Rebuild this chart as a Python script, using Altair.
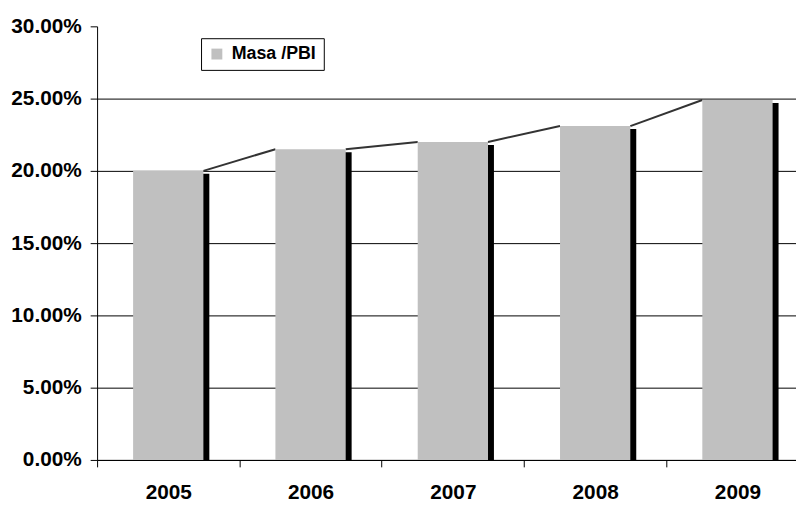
import altair as alt
import pandas as pd

# ---- data ----
years = ["2005", "2006", "2007", "2008", "2009"]
values = [0.200, 0.215, 0.220, 0.231, 0.249]
series_name = "Masa /PBI"
y_ticks = [0.0, 0.05, 0.10, 0.15, 0.20, 0.25, 0.30]

# ---- layout constants (pixels) ----
BAND = 143.75          # width of one category slot
HALF = 35.5 / BAND     # half bar width in category units
W = 706
H = 438
FONT = "Liberation Sans"

bar_rows = []
for i, (yr, v) in enumerate(zip(years, values)):
    bar_rows.append(dict(year=yr, left=i + 0.5 - HALF, right=i + 0.5 + HALF,
                         value=v, series=series_name))
bars_df = pd.DataFrame(bar_rows)

# series lines: from top-right corner of one bar to top-left corner of the next
line_rows = []
for i in range(len(years) - 1):
    line_rows.append(dict(pos=bar_rows[i]["right"], value=values[i], seg=i, order=0))
    line_rows.append(dict(pos=bar_rows[i + 1]["left"], value=values[i + 1], seg=i, order=1))
line_df = pd.DataFrame(line_rows)

x_scale = alt.Scale(domain=[0, W / BAND], nice=False, zero=False)
y_scale = alt.Scale(domain=[0, 0.30], nice=False)

label_expr = "[" + ",".join(f"'{y}'" for y in years) + "][datum.value]"

x_axis = alt.Axis(
    values=list(range(len(years))), labelExpr=label_expr, labelOffset=BAND / 2,
    title=None, grid=False, tickSize=7, tickColor="black", domainColor="black",
    labelFont=FONT, labelFontSize=21, labelFontWeight="bold", labelColor="black",
    labelPadding=15, labelFlush=False, labelOverlap=False, labelBound=False,
)
y_axis = alt.Axis(
    values=y_ticks, format=".2%", title=None, grid=True, gridColor="black",
    gridOpacity={"condition": {"test": "datum.value >= 0.29", "value": 0}, "value": 1},
    tickSize=7, tickColor="black", domainColor="black",
    labelFont=FONT, labelFontSize=21, labelFontWeight="bold", labelColor="black",
    labelPadding=9, labelFlush=False, labelOverlap=False,
)

line = alt.Chart(line_df).mark_line(color="#333333", strokeWidth=2).encode(
    x=alt.X("pos:Q", scale=x_scale, axis=x_axis),
    y=alt.Y("value:Q", scale=y_scale, axis=y_axis),
    detail="seg:N",
    order="order:Q",
)

shadow = alt.Chart(bars_df).mark_bar(
    color="black", xOffset=6, x2Offset=6, yOffset=3
).encode(
    x=alt.X("left:Q", scale=x_scale),
    x2="right:Q",
    y=alt.Y("value:Q", scale=y_scale),
    y2=alt.datum(0),
)

bars = alt.Chart(bars_df).mark_bar().encode(
    x=alt.X("left:Q", scale=x_scale),
    x2="right:Q",
    y=alt.Y("value:Q", scale=y_scale),
    y2=alt.datum(0),
    color=alt.Color(
        "series:N",
        scale=alt.Scale(range=["#C0C0C0"]),
        legend=alt.Legend(
            title=None, orient="none", legendX=105, legendY=12,
            fillColor="white", strokeColor="black", padding=7,
            symbolType="square", symbolSize=121, symbolStrokeWidth=0,
            labelFont=FONT, labelFontSize=18, labelFontWeight="bold",
            labelColor="black", labelOffset=6, cornerRadius=0,
        ),
    ),
)

chart = (
    alt.layer(line, shadow, bars)
    .properties(
        width=W, height=H,
        autosize=alt.AutoSizeParams(type="none"),
        padding={"left": 90, "top": 16, "right": 0, "bottom": 43},
        background="white",
    )
    .configure_view(stroke=None)
)

chart.save("out.html", embed_options={"renderer": "svg", "actions": False})
